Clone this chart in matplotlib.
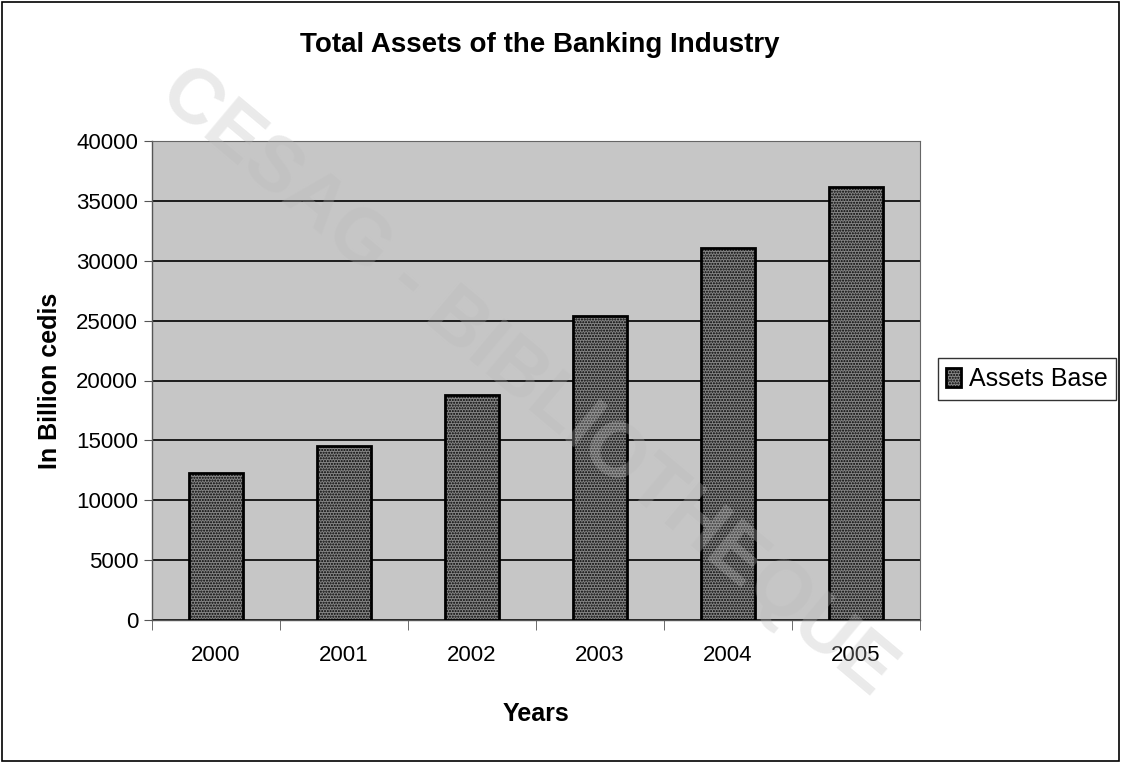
import matplotlib
matplotlib.use("Agg")
import matplotlib.pyplot as plt
from matplotlib.patches import Rectangle

years = ["2000", "2001", "2002", "2003", "2004", "2005"]
assets = [12300, 14500, 18750, 25350, 31100, 36150]
y_ticks = [0, 5000, 10000, 15000, 20000, 25000, 30000, 35000, 40000]

plt.rcParams['font.family'] = ['Liberation Sans', 'DejaVu Sans']

W, H = 1121, 763
fig = plt.figure(figsize=(W / 100, H / 100), dpi=100)
fig.patch.set_facecolor("white")
fig.patches.append(Rectangle((0.002, 0.003), 0.996, 0.994, transform=fig.transFigure,
                             fill=False, edgecolor="black", linewidth=1.2))

ax = fig.add_axes([152 / W, 1 - 620 / H, (920 - 152) / W, (620 - 141) / H])
ax.set_facecolor("#c6c6c6")

x = list(range(len(years)))
ax.bar(x, assets, width=0.42, color="#858585", edgecolor="black", linewidth=2,
       hatch="......", zorder=3, label="Assets Base")

ax.set_xlim(-0.5, len(years) - 0.5)
ax.set_ylim(0, 40000)
ax.set_yticks(y_ticks)
ax.set_yticklabels([str(v) for v in y_ticks], fontsize=16)
ax.set_xticks(x)
ax.set_xticklabels(years, fontsize=16)
ax.tick_params(axis="x", length=0, pad=18)
ax.set_xticks([i + 0.5 for i in range(-1, len(years))], minor=True)
ax.tick_params(axis="x", which="minor", length=7, direction="out", color="#555555")
ax.tick_params(axis="y", length=6, direction="out", color="#555555", pad=4)
ax.grid(axis="y", color="black", linewidth=1.2, zorder=1)
ax.set_axisbelow(True)
for s in ["top", "right"]:
    ax.spines[s].set_color("#666666")
    ax.spines[s].set_linewidth(0.8)
for s in ["left", "bottom"]:
    ax.spines[s].set_color("#555555")
    ax.spines[s].set_linewidth(1.0)

ax.set_xlabel("Years", fontsize=18, fontweight="bold", labelpad=26)
ax.set_ylabel("In Billion cedis", fontsize=18, fontweight="bold", labelpad=10)
fig.text(540 / W, 1 - 45 / H, "Total Assets of the Banking Industry", fontsize=20,
         fontweight="bold", ha="center", va="center")

leg = fig.legend(loc="center", bbox_to_anchor=(1027 / W, 1 - 379 / H), fontsize=18,
                 frameon=True, fancybox=False, edgecolor="black", handlelength=0.6,
                 handleheight=0.8, handletextpad=0.3, borderpad=0.35)
leg.get_frame().set_linewidth(1.0)

fig.text(0.47, 0.5, "CESAG - BIBLIOTHEQUE", fontsize=56, color="#bbbbbb", alpha=0.3,
         rotation=-40, ha="center", va="center", fontweight="bold", zorder=10)

fig.savefig("out.png", dpi=100)
